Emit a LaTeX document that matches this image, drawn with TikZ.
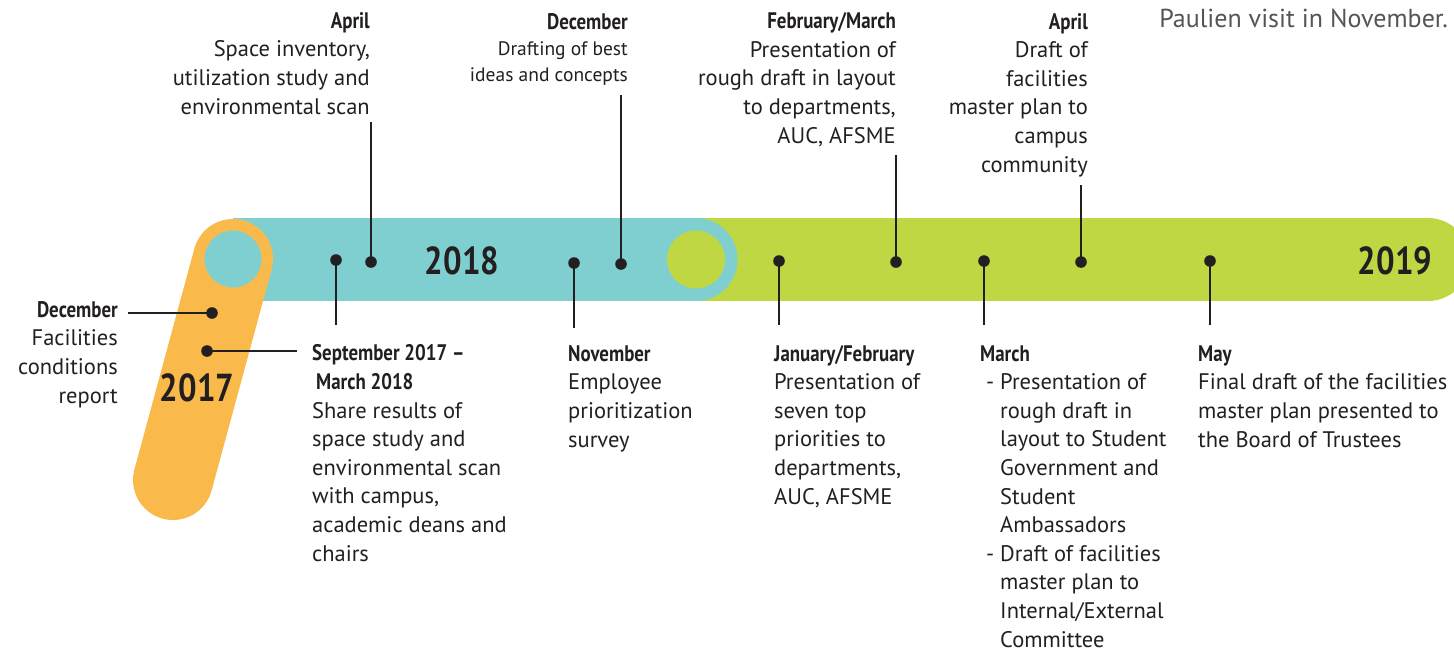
\documentclass[tikz,border=0pt]{standalone}
\usepackage{fontspec}
\setmainfont{PT Sans}
\newfontfamily\hdfont[FakeStretch=0.84]{PT Sans Bold}
\definecolor{teal1}{HTML}{80CFD0}
\definecolor{grn1}{HTML}{BFD743}
\definecolor{org1}{HTML}{F9BA4B}
\definecolor{ink}{HTML}{231F20}
\definecolor{greytxt}{HTML}{555555}
\newcommand{\hd}[1]{{\hdfont #1}}
\tikzset{
  conn/.style={draw=ink, line width=2.6pt},
  dotmark/.style={fill=ink},
  lbl/.style={inner sep=0pt, text=ink, font=\fontsize{22.5}{28.6}\selectfont},
  lblL/.style={lbl, align=left, anchor=base west},
  lblR/.style={lbl, align=right, anchor=base east},
  yr/.style={inner sep=0pt, text=ink, font=\hdfont\fontsize{39}{40}\selectfont},
}
\begin{document}
\begin{tikzpicture}[x=1pt,y=-1pt]
\useasboundingbox (0,0) rectangle (1454,651);
\begin{scope}
\clip (0,0) rectangle (1454,651);
% green bar
\fill[grn1] (696,218) rectangle (1428,301);
\fill[grn1] (1428,259.5) circle[radius=41.5pt];
% teal bar
\fill[teal1] (233,218) rectangle (696,301);
\fill[teal1] (696,259.5) circle[radius=41.5pt];
\fill[grn1] (696,259.5) circle[radius=29pt];
% orange capsule
\draw[org1, line width=80pt, line cap=round] (233,259) -- (173,480);
\fill[teal1] (233,259) circle[radius=28.5pt];
\end{scope}

% years
\node[yr] (y17) at (197,388) {2017};
\node[yr] (y18) at (462,261) {2018};
\node[yr] (y19) at (1395,261) {2019};

% connectors
\coordinate (p0) at (212,313); \coordinate (p0e) at (128,313);
\coordinate (p1) at (207,351); \coordinate (p1e) at (297,351);
\coordinate (p2) at (336,260); \coordinate (p2e) at (336,325);
\coordinate (p3) at (371,262); \coordinate (p3e) at (371,122);
\coordinate (p4) at (574,263); \coordinate (p4e) at (574,328);
\coordinate (p5) at (621,264); \coordinate (p5e) at (621,95);
\coordinate (p6) at (779,261); \coordinate (p6e) at (779,325);
\coordinate (p7) at (896,262); \coordinate (p7e) at (896,155);
\coordinate (p8) at (984,261); \coordinate (p8e) at (984,325);
\coordinate (p9) at (1081,262); \coordinate (p9e) at (1081,185);
\coordinate (p10) at (1210,261); \coordinate (p10e) at (1210,325);
\foreach \i in {0,...,10}{
  \draw[conn] (p\i) -- (p\i e);
  \fill[dotmark] (p\i) circle[radius=5.8pt];
}

% labels (anchored at the baseline of their last line)
\node[lblR] (lDec17) at (118,403) {\hd{December}\\Facilities\\conditions\\report};
\node[lblR] (lApr18) at (370,114) {\hd{April}\\Space inventory,\\utilization study and\\environmental scan};
\node[lbl, align=right, anchor=base east, font=\fontsize{19.5}{26}\selectfont] (lDec18) at (628,81) {\fontsize{22.5}{26}\selectfont\hd{December}\\Drafting of best\\ideas and concepts};
\node[lblR] (lFeb19) at (896,143) {\hd{February/March}\\Presentation of\\rough draft in layout\\to departments,\\AUC, AFSME};
\node[lblR] (lApr19) at (1088,172) {\hd{April}\\Draft of\\facilities\\master plan to\\campus\\community};
\node[lblL] (lSep) at (312,561) {\hd{September 2017 –}\\\hspace*{4pt}\hd{March 2018}\\Share results of\\space study and\\environmental scan\\with campus,\\academic deans and\\chairs};
\node[lblL] (lNov) at (568,447) {\hd{November}\\Employee\\prioritization\\survey};
\node[lblL] (lJan) at (774,504) {\hd{January/February}\\Presentation of\\seven top\\priorities to\\departments,\\AUC, AFSME};
\node[lblL] (lMar) at (980,647) {\hd{March}\\\makebox[20pt][c]{-}Presentation of\\\hspace*{20pt}rough draft in\\\hspace*{20pt}layout to Student\\\hspace*{20pt}Government and\\\hspace*{20pt}Student\\\hspace*{20pt}Ambassadors\\\makebox[20pt][c]{-}Draft of facilities\\\hspace*{20pt}master plan to\\\hspace*{20pt}Internal/External\\\hspace*{20pt}Committee};
\node[lblL] (lMay) at (1198,447) {\hd{May}\\Final draft of the facilities\\master plan presented to\\the Board of Trustees};
\node[inner sep=0pt, anchor=base east, text=greytxt, font=\fontsize{26}{30}\selectfont] (pv) at (1448,27) {Paulien visit in November.};
\end{tikzpicture}
\end{document}
